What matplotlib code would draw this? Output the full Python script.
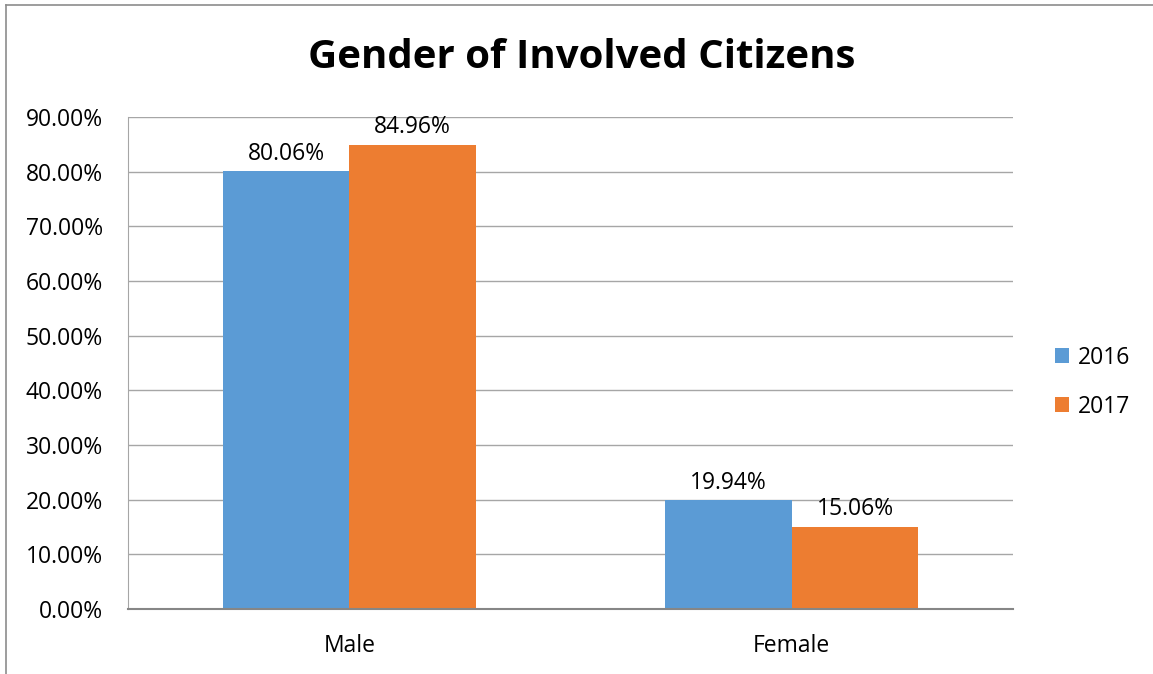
#!/usr/bin/env python3

import numpy as np
import matplotlib.pyplot as plt
from matplotlib.lines import Line2D

categories = ['Male', 'Female']
years = ['2016', '2017']
values_2016 = [0.8006, 0.1994]
values_2017 = [0.8496, 0.1506]
y_ticks = [0.0, 0.1, 0.2, 0.3, 0.4, 0.5, 0.6, 0.7, 0.8, 0.9]

def main():
    plt.rcParams['font.family'] = ['Open Sans', 'DejaVu Sans']
    fig = plt.figure(figsize=(11.53, 6.74), dpi=100)
    ax = fig.add_axes([128/1153, 65/674, 885/1153, 492/674])

    x = np.arange(len(categories))
    w = 0.286
    colors = ['#5B9BD5', '#ED7D31']
    series = [values_2016, values_2017]
    for i, vals in enumerate(series):
        pos = x + (i - 0.5) * w
        bars = ax.bar(pos, vals, w, color=colors[i], label=years[i], zorder=2)
        for b, v in zip(bars, vals):
            ax.text(b.get_x() + b.get_width()/2, v + 0.01, '%.2f%%' % (v*100),
                    ha='center', va='bottom', fontsize=16.5, color='#000000')

    ax.set_xlim(-0.5, 1.5)
    ax.set_ylim(0, 0.9)
    ax.set_yticks(y_ticks)
    ax.set_yticklabels(['%.2f%%' % (t*100) for t in y_ticks], fontsize=16.5)
    ax.set_xticks(x)
    ax.set_xticklabels(categories, fontsize=16.5)
    ax.tick_params(length=0)
    ax.tick_params(axis='y', pad=18)
    ax.tick_params(axis='x', pad=18)
    ax.grid(axis='y', color='#A6A6A6', linewidth=1, zorder=0)
    for s in ['top', 'right']:
        ax.spines[s].set_visible(False)
    ax.spines['left'].set_color('#A6A6A6')
    ax.spines['bottom'].set_color('#868686')
    ax.spines['bottom'].set_linewidth(1.5)

    fig.text(582/1153, 1 - 57/674, 'Gender of Involved Citizens', ha='center', va='center',
             fontsize=29, fontweight='bold')

    ax.legend(loc='center left', bbox_to_anchor=(1.024, 0.461), frameon=False,
              fontsize=16.5, handlelength=0.6, handleheight=0.6, handletextpad=0.4,
              labelspacing=1.1)

    # chart border (left and top edges visible)
    fig.add_artist(Line2D([6/1153, 6/1153], [0, 1 - 5/674], transform=fig.transFigure,
                          color='#8C8C8C', linewidth=1.2))
    fig.add_artist(Line2D([6/1153, 1], [1 - 5/674, 1 - 5/674], transform=fig.transFigure,
                          color='#8C8C8C', linewidth=1.2))

    fig.savefig('out.png', dpi=100)

if __name__ == '__main__':
    main()
